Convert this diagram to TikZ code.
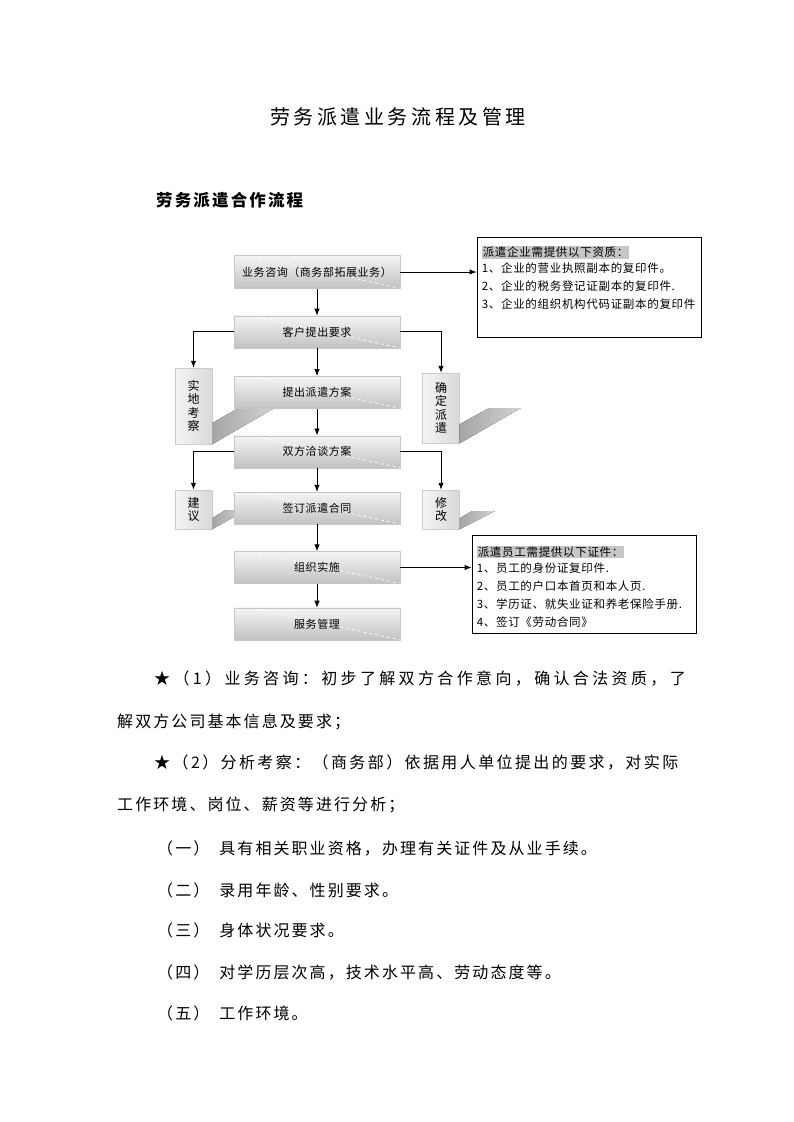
\documentclass[tikz,border=0pt]{standalone}
\usepackage{fontspec}
\usetikzlibrary{arrows.meta, positioning, shapes}
\newfontfamily\cjk{Noto Sans CJK SC}
\newfontfamily\cjkwide{Noto Sans CJK SC}[LetterSpace=13]
\newfontfamily\cjkjust{Noto Sans CJK SC}[LetterSpace=21]
\newfontfamily\cjkjustb{Noto Sans CJK SC}[LetterSpace=15]
\newfontfamily\cjktitle{Noto Sans CJK SC}[LetterSpace=18]
\newfontfamily\cjkbox{Noto Sans CJK SC}[LetterSpace=5]
\newfontfamily\cjkinfo{Noto Sans CJK SC}[LetterSpace=6]

\begin{document}
\begin{tikzpicture}[x=1pt, y=-1pt,
  flowbox/.style={rectangle, minimum width=166pt, minimum height=32pt, inner sep=0pt, top color=gray!8, bottom color=gray!48, draw=gray!45, font=\cjkbox\fontsize{11}{11}\selectfont,
    path picture={\draw[white, dashed, line width=0.7pt] ([xshift=18pt]path picture bounding box.north west) -- (path picture bounding box.south east);}},
  sidebox/.style={rectangle, minimum width=37pt, inner sep=0pt, left color=gray!8, right color=gray!30, draw=gray!40, align=center, font=\cjk\fontsize{12}{13.5}\selectfont},
  sideshade/.style={left color=gray!70, right color=gray!35, draw=none},
  infobox/.style={rectangle, draw=black, line width=0.8pt, fill=white, minimum width=224pt, inner sep=0pt},
  infotext/.style={anchor=north west, inner sep=0pt, align=left, font={\cjkinfo\fontsize{11.5}{18}\selectfont\setlength{\fboxsep}{1pt}}},
  arr/.style={-{Latex[length=7pt, width=5.5pt]}, line width=0.9pt},
  body/.style={anchor=west, inner sep=0pt, font=\cjkwide\fontsize{16}{16}\selectfont}]
\useasboundingbox[fill=white] (0,0) rectangle (793,1122);

\node (title) [font=\cjktitle\fontsize{20}{20}\selectfont] at (398,117) {劳务派遣业务流程及管理};
\node (sub) [anchor=west, inner sep=0pt, font=\cjkwide\bfseries\fontsize{16.5}{16.5}\selectfont] at (156,200) {劳务派遣合作流程};

% side boxes and their shades
\node (kc) [sidebox, minimum height=76pt] at (193.5,406) {实\\地\\考\\察};
\node (qd) [sidebox, minimum height=70pt] at (441,408) {确\\定\\派\\遣};
\node (jy) [sidebox, minimum height=39pt] at (193.5,509.5) {建\\议};
\node (xg) [sidebox, minimum height=39pt] at (441,509.5) {修\\改};
\fill [sideshade] (kc.south east) -- ++(0,-21) -- ++(26,-15) -- ++(36,0) -- cycle;
\fill [sideshade] (qd.south east) -- ++(0,-19) -- ++(29,-16) -- ++(32,0) -- cycle;
\fill [sideshade] (jy.south east) -- ++(0,-11) -- ++(13,-8) -- ++(21,0) -- cycle;
\fill [sideshade] (xg.south east) -- ++(0,-11) -- ++(12,-7) -- ++(23,0) -- cycle;

% main flow
\node (b1) [flowbox, minimum height=33pt] at (317,272) {业务咨询（商务部拓展业务）};
\node (b2) [flowbox, below=27pt of b1] {客户提出要求};
\node (b3) [flowbox, below=28pt of b2] {提出派遣方案};
\node (b4) [flowbox, below=27pt of b3] {双方洽谈方案};
\node (b5) [flowbox, below=24pt of b4] {签订派遣合同};
\node (b6) [flowbox, below=27pt of b5] {组织实施};
\node (b7) [flowbox, below=24pt of b6] {服务管理};

% document lists
\node (zz1) [infobox, minimum height=100pt] at (589,287) {};
\node (zz1t) [infotext] at ([shift={(5,9)}]zz1.north west) {\colorbox{gray!45}{派遣企业需提供以下资质：}\\[-2pt]1、企业的营业执照副本的复印件。\\2、企业的税务登记证副本的复印件.\\3、企业的组织机构代码证副本的复印件};
\node (zz2) [infobox, minimum height=98pt] at (584,584) {};
\node (zz2t) [infotext] at ([shift={(5,11)}]zz2.north west) {\colorbox{gray!45}{派遣员工需提供以下证件：}\\[-2pt]1、员工的身份证复印件.\\2、员工的户口本首页和本人页.\\3、学历证、就失业证和养老保险手册.\\4、签订《劳动合同》};

\draw [arr] (b1) -- (b2);
\draw [arr] (b2) -- (b3);
\draw [arr] (b3) -- (b4);
\draw [arr] (b4) -- (b5);
\draw [arr] (b5) -- (b6);
\draw [arr] (b6) -- (b7);
\draw [arr] (b1.east) -- (b1.east -| zz1.west);
\draw [arr] (b6.east) -- (b6.east -| zz2.west);
\draw [arr] (b2.west) -| (kc.north);
\draw [arr] (b2.east) -| (qd.north);
\draw [arr] (b4.west) -| (jy.north);
\draw [arr] (b4.east) -| (xg.north);

% text under the chart
\node (t1) [body, font=\cjkjust\fontsize{16}{16}\selectfont] at (154,678) {★（1）业务咨询：初步了解双方合作意向，确认合法资质，了};
\node (t2) [body] at (117,722) {解双方公司基本信息及要求；};
\node (t3) [body, font=\cjkjustb\fontsize{16}{16}\selectfont] at (154,762) {★（2）分析考察：（商务部）依据用人单位提出的要求，对实际};
\node (t4) [body] at (117,805) {工作环境、岗位、薪资等进行分析；};
\node (t5) [body] at (157,848) {（一）\hspace{10pt}具有相关职业资格，办理有关证件及从业手续。};
\node (t6) [body] at (157,890) {（二）\hspace{10pt}录用年龄、性别要求。};
\node (t7) [body] at (157,930) {（三）\hspace{10pt}身体状况要求。};
\node (t8) [body] at (157,972) {（四）\hspace{10pt}对学历层次高，技术水平高、劳动态度等。};
\node (t9) [body] at (157,1013) {（五）\hspace{10pt}工作环境。};
\end{tikzpicture}
\end{document}
